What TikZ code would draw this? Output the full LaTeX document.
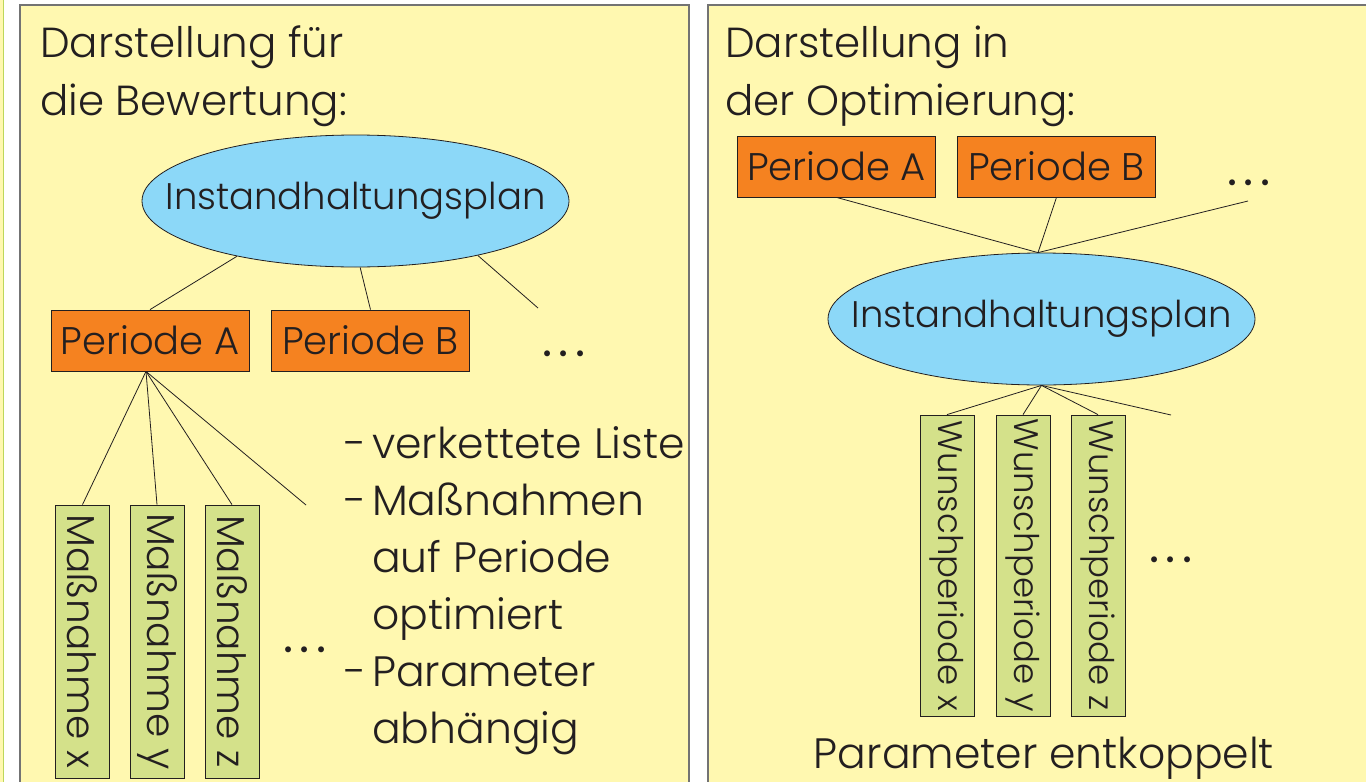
\documentclass[tikz,border=0pt]{standalone}
\usepackage{fontspec}
\IfFontExistsTF{Poppins Light}{\setmainfont{Poppins Light}}{\setmainfont{Poppins}}
\newfontfamily\dotfont{Poppins}
\usetikzlibrary{shapes.geometric,calc}
\definecolor{paneyellow}{RGB}{255,248,176}
\definecolor{boxorange}{RGB}{245,130,32}
\definecolor{ellblue}{RGB}{140,216,248}
\definecolor{boxgreen}{RGB}{212,225,138}
\definecolor{framegray}{RGB}{115,115,115}
\definecolor{inkdark}{RGB}{35,31,32}
\definecolor{edgegreen}{RGB}{190,215,90}
\newcommand{\mydots}{.\kern6pt.\kern6pt.}
\tikzset{
  panel/.style={fill=paneyellow, draw=framegray, line width=1.3pt},
  period/.style={draw=inkdark, fill=boxorange, minimum width=198pt, minimum height=61pt, inner sep=0pt, line width=0.8pt, text=inkdark, font=\fontsize{38.5}{38.5}\selectfont},
  plan/.style={ellipse, draw=inkdark, fill=ellblue, minimum width=427pt, minimum height=132pt, inner xsep=-80pt, inner ysep=-30pt, line width=0.8pt, text=inkdark, font=\fontsize{37}{37}\selectfont},
  measure/.style={draw=inkdark, fill=boxgreen, rotate=-90, minimum height=54pt, inner sep=0pt, line width=0.8pt, text=inkdark},
  link/.style={draw=inkdark, line width=0.8pt},
  title/.style={anchor=base west, inner sep=0pt, text=inkdark, font=\fontsize{42}{42}\selectfont},
  bullet/.style={anchor=base west, inner sep=0pt, text=inkdark, font=\fontsize{42.5}{42.5}\selectfont},
  dots/.style={anchor=base, inner sep=0pt, text=inkdark, font=\dotfont\fontsize{48}{48}\selectfont}
}
\begin{document}
\begin{tikzpicture}[x=1pt,y=-1pt]
\useasboundingbox (0,0) rectangle (1366,782);
\fill[white] (0,0) rectangle (1366,782);
\fill[paneyellow] (0,0) rectangle (3,782);
\draw[edgegreen, line width=1pt] (3.5,0) -- (3.5,782);
% panels
\path[panel] (20,5) rectangle (689,800);
\path[panel] (708,5) rectangle (1380,800);

% ---------- left panel ----------
\node[title] (tl1) at (40,57) {Darstellung für};
\node[title] (tl2) at (40,115) {die Bewertung:};

\node[plan] (planL) at (355.5,201) {Instandhaltungsplan};
\node[period] (paL) at (150,340.5) {Periode A};
\node[period] (pbL) at (370.5,340.5) {Periode B};
\node[dots] (dL1) at (564,356) {\mydots};
\coordinate (freeL1) at (538,308);

\draw[link] (planL.205.5) -- (paL.north);
\draw[link] (planL.274) -- (pbL.north);
\draw[link] (planL.336) -- (freeL1);

\node[measure, minimum width=273pt, font=\fontsize{39}{39}\selectfont] (mx) at (82.5,641.5) {Maßnahme x};
\node[measure, minimum width=273pt, font=\fontsize{39}{39}\selectfont] (my) at (157,641.5) {Maßnahme y};
\node[measure, minimum width=273pt, font=\fontsize{39}{39}\selectfont] (mz) at (232,641.5) {Maßnahme z};
\node[dots] (dL2) at (305,652) {\mydots};
\coordinate (hubL) at ($(paL.south)+(-4,0)$);
\coordinate (freeL2) at (306,505);
\draw[link] (hubL) -- (mx.west);
\draw[link] (hubL) -- (my.west);
\draw[link] (hubL) -- (mz.west);
\draw[link] (hubL) -- (freeL2);

\node[bullet] (b1) at (344,458) {-};
\node[bullet] (b1t) at (372,458) {verkettete Liste};
\node[bullet] (b2) at (344,515) {-};
\node[bullet] (b2t) at (372,515) {Maßnahmen};
\node[bullet] (b3t) at (372,572) {auf Periode};
\node[bullet] (b4t) at (372,629) {optimiert};
\node[bullet] (b5) at (344,686) {-};
\node[bullet] (b5t) at (372,686) {Parameter};
\node[bullet] (b6t) at (372,743) {abhängig};

% ---------- right panel ----------
\node[title] (tr1) at (725,57) {Darstellung in};
\node[title] (tr2) at (725,115) {der Optimierung:};

\node[period] (paR) at (836.5,166.5) {Periode A};
\node[period] (pbR) at (1056.5,166.5) {Periode B};
\node[dots] (dR1) at (1249,185) {\mydots};
\node[plan] (planR) at (1041.5,319) {Instandhaltungsplan};
\coordinate (freeR1) at (1248,201);
\draw[link] (paR.south) -- (planR.93);
\draw[link] (pbR.south) -- (planR.93);
\draw[link] (freeR1) -- (planR.93);

\node[measure, minimum width=301pt, font=\fontsize{34}{34}\selectfont] (wx) at (947,565.5) {Wunschperiode x};
\node[measure, minimum width=301pt, font=\fontsize{34}{34}\selectfont] (wy) at (1023,565.5) {Wunschperiode y};
\node[measure, minimum width=301pt, font=\fontsize{34}{34}\selectfont] (wz) at (1098,565.5) {Wunschperiode z};
\node[dots] (dR2) at (1171,562) {\mydots};
\coordinate (freeR2) at (1171,415);
\draw[link] (planR.270) -- (wx.west);
\draw[link] (planR.270) -- (wy.west);
\draw[link] (planR.270) -- (wz.west);
\draw[link] (planR.270) -- (freeR2);

\node[anchor=base, inner sep=0pt, text=inkdark, font=\fontsize{42.5}{42.5}\selectfont] (pe) at (1044,768) {Parameter entkoppelt};
\end{tikzpicture}
\end{document}
